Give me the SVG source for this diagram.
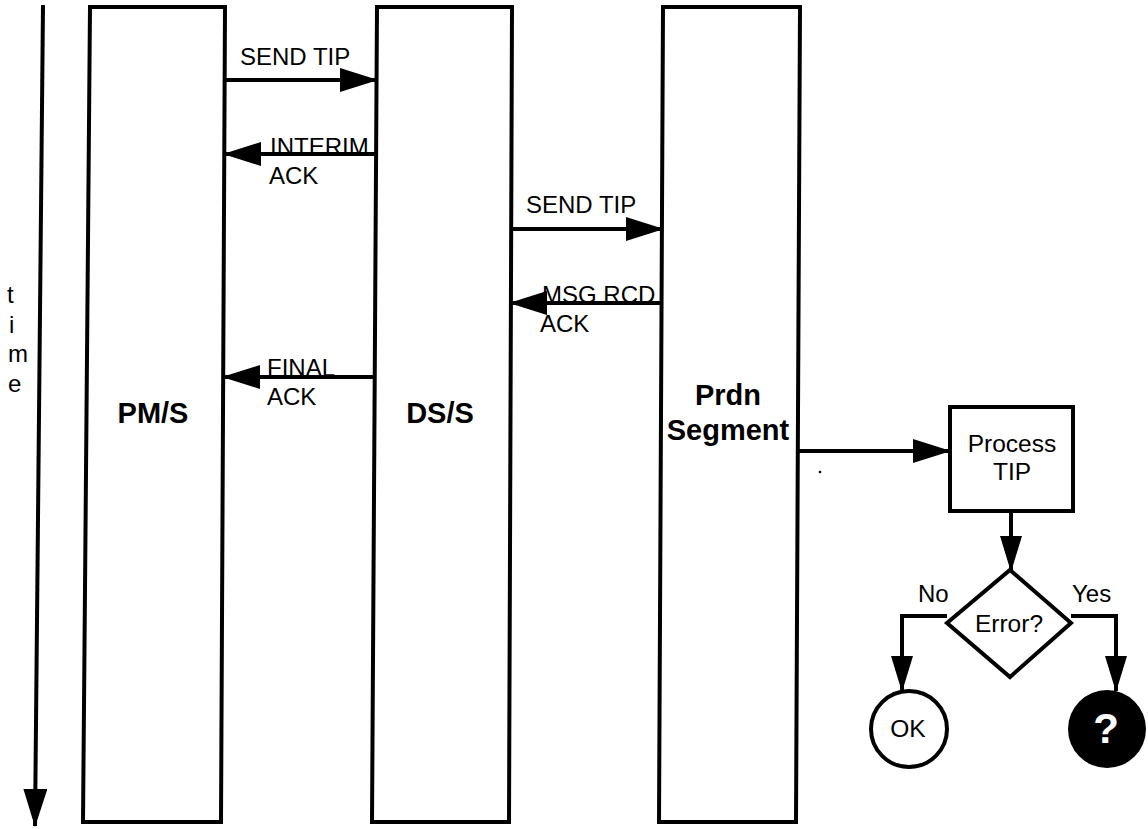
<svg xmlns="http://www.w3.org/2000/svg" width="1148" height="829" viewBox="0 0 1148 829">
<style>
.box{fill:#fff;stroke:#000;stroke-width:4;stroke-linejoin:miter}
.ln{fill:none;stroke:#000;stroke-width:4}
.t{font-family:"Liberation Sans",Arial,sans-serif;font-size:24px;fill:#000}
.m{font-family:"Liberation Sans",Arial,sans-serif;font-size:24.5px;fill:#000;text-anchor:middle}
.b{font-family:"Liberation Sans",Arial,sans-serif;font-size:29px;font-weight:bold;fill:#000;text-anchor:middle}
</style>
<defs>
<marker id="ah" markerUnits="userSpaceOnUse" viewBox="0 0 38 24" markerWidth="38" markerHeight="24" refX="37" refY="12" orient="auto">
<path d="M0,0 L38,12 L0,24 Z" fill="#000"/>
</marker>
<marker id="ahs" markerUnits="userSpaceOnUse" viewBox="0 0 36 22" markerWidth="36" markerHeight="22" refX="35" refY="11" orient="auto">
<path d="M0,0 L36,11 L0,22 Z" fill="#000"/>
</marker>
</defs>
<rect width="1148" height="829" fill="#fff"/>
<g id="time">
<line class="ln" x1="43" y1="5" x2="35" y2="826" marker-end="url(#ah)"/>
<text class="t" x="7" y="303">t</text>
<text class="t" x="9" y="333">i</text>
<text class="t" x="8" y="362">m</text>
<text class="t" x="8" y="392">e</text>
</g>
<g id="pms">
<polygon class="box" points="90,7 225,7 221,822 83,822"/>
<text class="b" x="153" y="423">PM/S</text>
</g>
<g id="dss">
<polygon class="box" points="377,7 512,7 509,822 372,822"/>
<text class="b" x="440" y="423">DS/S</text>
</g>
<g id="prdn">
<polygon class="box" points="663,7 800,7 796,822 659,822"/>
<text class="b" x="728" y="405">Prdn</text>
<text class="b" x="728" y="440">Segment</text>
</g>
<g id="process">
<rect class="box" x="950" y="407" width="123" height="104"/>
<text class="m" x="1012" y="452">Process</text>
<text class="m" x="1012" y="480">TIP</text>
</g>
<g id="error">
<polygon class="box" points="1010,570 1071,623 1010,677 947,623"/>
<text class="m" x="1009" y="632">Error?</text>
</g>
<g id="ok">
<circle class="box" cx="909" cy="729" r="38"/>
<text class="m" x="908" y="737">OK</text>
</g>
<g id="unknown">
<circle cx="1107" cy="729" r="39" fill="#000"/>
<text x="1106" y="743" font-family="Liberation Sans,Arial,sans-serif" font-size="42" font-weight="bold" fill="#fff" text-anchor="middle">?</text>
</g>
<g id="connectors">
<line class="ln" x1="225" y1="80" x2="377" y2="80" marker-end="url(#ah)"/>
<text class="t" x="240" y="65">SEND TIP</text>
<line class="ln" x1="376" y1="154" x2="224" y2="154" marker-end="url(#ah)"/>
<text class="t" x="270" y="155">INTERIM</text>
<text class="t" x="269" y="184">ACK</text>
<line class="ln" x1="511" y1="229" x2="663" y2="229" marker-end="url(#ah)"/>
<text class="t" x="526" y="213">SEND TIP</text>
<line class="ln" x1="662" y1="303" x2="510" y2="303" marker-end="url(#ah)"/>
<text class="t" x="542" y="303">MSG RCD</text>
<text class="t" x="540" y="332">ACK</text>
<line class="ln" x1="375" y1="377" x2="223" y2="377" marker-end="url(#ah)"/>
<text class="t" x="267" y="376">FINAL</text>
<text class="t" x="267" y="405">ACK</text>
<line class="ln" x1="797" y1="451" x2="950" y2="451" marker-end="url(#ah)"/>
<circle cx="820" cy="472" r="1.3" fill="#000"/>
<line class="ln" x1="1011" y1="511" x2="1011" y2="571" marker-end="url(#ahs)"/>
<polyline class="ln" points="947,616 902,616 902,691" marker-end="url(#ahs)"/>
<text class="t" x="918" y="602">No</text>
<polyline class="ln" points="1071,616 1116,616 1116,691" marker-end="url(#ahs)"/>
<text class="t" x="1072" y="602">Yes</text>
</g>
</svg>
